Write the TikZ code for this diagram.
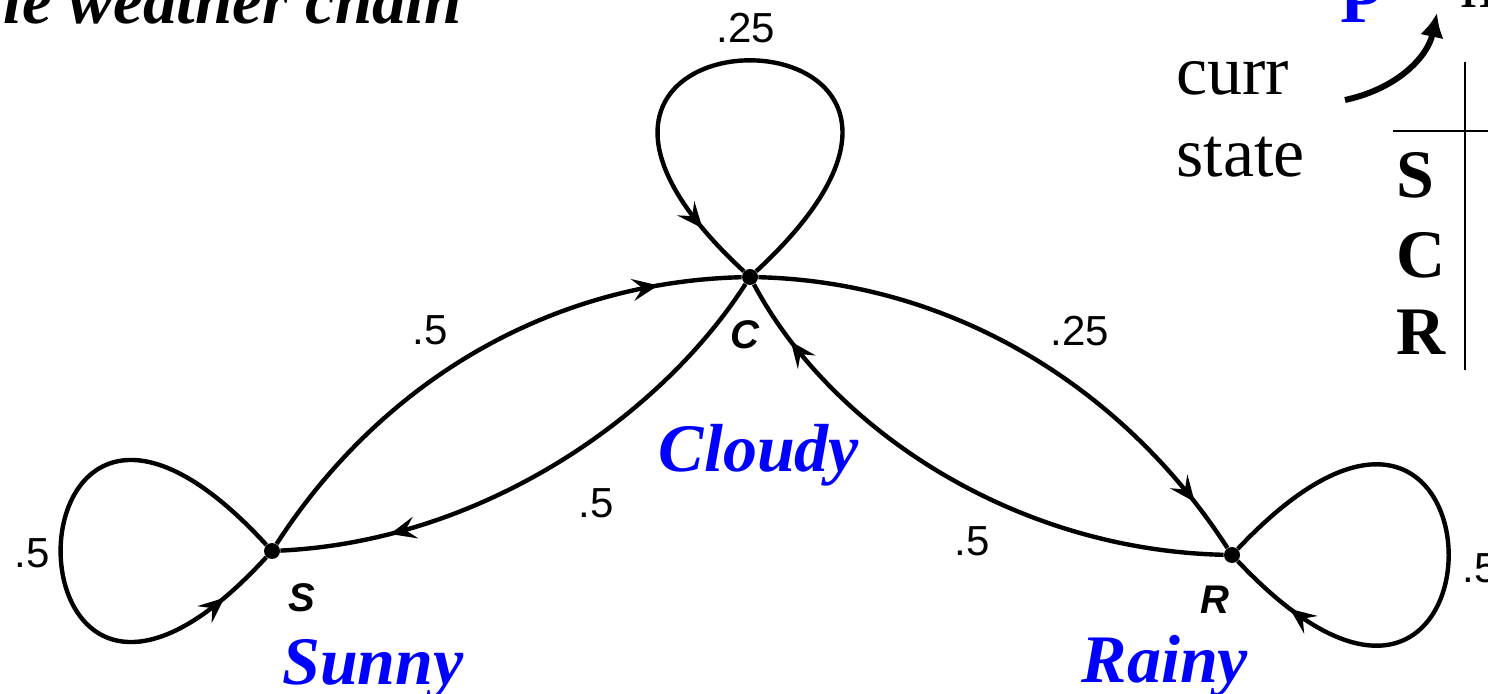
\documentclass[tikz,border=0pt]{standalone}
\usepackage{fontspec}
\setmainfont{Liberation Serif}
\setsansfont{Liberation Sans}
\usetikzlibrary{arrows.meta,decorations.markings}
\definecolor{lblue}{RGB}{0,0,255}
\tikzset{
 statedot/.style={circle,fill=black,inner sep=0pt,minimum size=8pt},
 edge/.style={line width=2.2pt,black},
 midarrow/.style={postaction={decorate,decoration={markings,mark=at position #1 with {\arrow{Stealth[length=13pt,width=11pt,inset=5pt]}}}}},
 prob/.style={inner sep=0pt,font=\sffamily\fontsize{21}{25}\selectfont},
 vlabel/.style={inner sep=0pt,font=\sffamily\bfseries\itshape\fontsize{20}{24}\selectfont},
 wname/.style={inner sep=0pt,text=lblue,font=\bfseries\itshape\fontsize{34}{40}\selectfont},
 bigtext/.style={inner sep=0pt,font=\fontsize{35}{42}\selectfont},
 bigbold/.style={inner sep=0pt,font=\bfseries\fontsize{34}{42}\selectfont},
}
\begin{document}
\begin{tikzpicture}[x=0.5pt,y=-0.5pt]
\useasboundingbox (0,0) rectangle (1488,694);
\clip (0,0) rectangle (1488,694);
% title
\node[inner sep=0pt,anchor=base east,font=\bfseries\itshape\fontsize{33.5}{40}\selectfont] (title) at (462,24) {le weather chain};
% states
\node[statedot] (C) at (750,277) {};
\node[statedot] (S) at (272,551) {};
\node[statedot] (R) at (1232,555) {};
% edges
\draw[edge,midarrow=0.85] (S) .. controls +(110,-170) and +(-200,5) .. (C);
\draw[edge,midarrow=0.8] (C) .. controls +(-90,140) and +(210,-10) .. (S);
\draw[edge,midarrow=0.9] (C) .. controls +(200,5) and +(-110,-170) .. (R);
\draw[edge,midarrow=0.88] (R) .. controls +(-220,-5) and +(80,150) .. (C);
\draw[edge,midarrow=0.9] (C) .. controls +(310,-287) and +(-310,-287) .. (C);
\draw[edge,midarrow=0.9] (S) .. controls +(-280,-305) and +(-280,305) .. (S);
\draw[edge,midarrow=0.88] (R) .. controls +(287,-304) and +(287,304) .. (R);
% probabilities
\node[prob] (pcc) at (746,28) {.25};
\node[prob] (pss) at (32,553) {.5};
\node[prob,anchor=west] (prr) at (1462,568) {.5};
\node[prob] (psc) at (430,330) {.5};
\node[prob] (pcr) at (1080,331) {.25};
\node[prob] (prc) at (972,541) {.5};
\node[prob] (pcs) at (596,503) {.5};
% vertex letters
\node[vlabel] (lc) at (745,335) {C};
\node[vlabel] (ls) at (302,598) {S};
\node[vlabel] (lr) at (1215,600) {R};
% weather names
\node[wname,anchor=base] (cloudy) at (759,472) {Cloudy};
\node[wname,anchor=base] (sunny) at (373,684) {Sunny};
\node[wname,anchor=base] (rainy) at (1165,682) {Rainy};
% matrix header
\node[bigbold,text=lblue,anchor=base west] (P) at (1340,23) {P};
\node[bigtext,anchor=base west] (nxt) at (1460,8) {n};
\node[bigtext,anchor=base west] (curr) at (1176,95) {curr};
\node[bigtext,anchor=base west] (st) at (1176,177) {state};
\coordinate (ca) at (1345,100);
\coordinate (cb) at (1437,13);
\draw[line width=3pt,-{Latex[length=12pt,width=12pt]}] (ca) .. controls (1400,88) and (1428,55) .. (cb);
\node[bigbold,anchor=base west] (rs) at (1396,198) {S};
\node[bigbold,anchor=base west] (rc) at (1396,278) {C};
\node[bigbold,anchor=base west] (rr) at (1396,355) {R};
\draw[line width=1.3pt] (1465,62) -- (1465,370);
\draw[line width=1.3pt] (1393,131) -- (1488,131);
\end{tikzpicture}
\end{document}
